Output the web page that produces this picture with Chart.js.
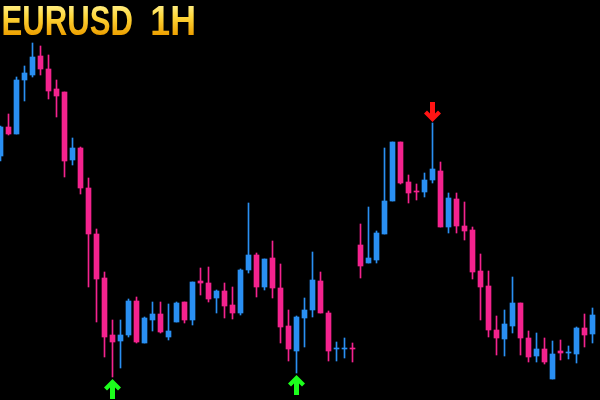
<!DOCTYPE html>
<html>
<head>
<meta charset="utf-8">
<script src="https://cdn.jsdelivr.net/npm/chart.js@4.4.1/dist/chart.umd.min.js"></script>
<style>
  html, body { margin: 0; padding: 0; background: #000; }
  #wrap { width: 600px; height: 400px; position: relative; }
</style>
</head>
<body>
<div id="wrap"><canvas id="myChart"></canvas></div>
<script>
// EURUSD 1H candles
var opens = [1.09220, 1.09365, 1.09330, 1.09600, 1.09625, 1.09720, 1.09655, 1.09555, 1.09540, 1.09200,
    1.09260, 1.09060, 1.08830, 1.08610, 1.08325, 1.08295, 1.08325, 1.08495, 1.08285, 1.08400,
    1.08430, 1.08315, 1.08390, 1.08490, 1.08400, 1.08595, 1.08585, 1.08510, 1.08545, 1.08475,
    1.08435, 1.08650, 1.08725, 1.08565, 1.08710, 1.08560, 1.08370, 1.08245, 1.08410, 1.08450,
    1.08595, 1.08435, 1.08255, 1.08255, 1.08260, 1.08775, 1.08685, 1.08700, 1.08830, 1.08995,
    1.09290, 1.09090, 1.09045, 1.09040, 1.09100, 1.09145, 1.08865, 1.09005, 1.08870, 1.08850,
    1.08645, 1.08570, 1.08350, 1.08305, 1.08370, 1.08485, 1.08310, 1.08220, 1.08255, 1.08105,
    1.08245, 1.08235, 1.08230, 1.08360, 1.08330];
var highs = [1.09370, 1.09430, 1.09615, 1.09670, 1.09785, 1.09770, 1.09725, 1.09600, 1.09540, 1.09310,
    1.09265, 1.09110, 1.08855, 1.08640, 1.08400, 1.08400, 1.08505, 1.08515, 1.08415, 1.08490,
    1.08490, 1.08480, 1.08490, 1.08490, 1.08590, 1.08660, 1.08665, 1.08550, 1.08585, 1.08565,
    1.08655, 1.08985, 1.08735, 1.08705, 1.08795, 1.08680, 1.08450, 1.08420, 1.08510, 1.08740,
    1.08640, 1.08445, 1.08290, 1.08310, 1.08285, 1.08880, 1.08965, 1.08845, 1.09260, 1.09290,
    1.09290, 1.09125, 1.09080, 1.09135, 1.09385, 1.09190, 1.09035, 1.09035, 1.08990, 1.08865,
    1.08730, 1.08645, 1.08420, 1.08450, 1.08615, 1.08485, 1.08345, 1.08335, 1.08310, 1.08295,
    1.08300, 1.08270, 1.08365, 1.08430, 1.08460];
var lows = [1.09195, 1.09325, 1.09330, 1.09495, 1.09615, 1.09625, 1.09505, 1.09415, 1.09115, 1.09175,
    1.09030, 1.08565, 1.08390, 1.08215, 1.08115, 1.08160, 1.08315, 1.08285, 1.08285, 1.08345,
    1.08335, 1.08300, 1.08390, 1.08385, 1.08375, 1.08525, 1.08490, 1.08435, 1.08410, 1.08405,
    1.08425, 1.08635, 1.08515, 1.08550, 1.08510, 1.08285, 1.08195, 1.08135, 1.08265, 1.08415,
    1.08435, 1.08195, 1.08195, 1.08210, 1.08190, 1.08610, 1.08685, 1.08685, 1.08830, 1.08995,
    1.09080, 1.08985, 1.09000, 1.09015, 1.09085, 1.08865, 1.08835, 1.08835, 1.08800, 1.08605,
    1.08400, 1.08315, 1.08225, 1.08220, 1.08335, 1.08225, 1.08190, 1.08190, 1.08180, 1.08105,
    1.08200, 1.08205, 1.08185, 1.08265, 1.08285];
var closes = [1.09365, 1.09330, 1.09600, 1.09635, 1.09715, 1.09655, 1.09545, 1.09520, 1.09195, 1.09260,
    1.09060, 1.08830, 1.08605, 1.08315, 1.08290, 1.08325, 1.08495, 1.08290, 1.08410, 1.08430,
    1.08340, 1.08345, 1.08485, 1.08400, 1.08590, 1.08585, 1.08505, 1.08545, 1.08470, 1.08435,
    1.08650, 1.08725, 1.08565, 1.08705, 1.08560, 1.08365, 1.08255, 1.08415, 1.08450, 1.08600,
    1.08435, 1.08245, 1.08260, 1.08260, 1.08255, 1.08670, 1.08710, 1.08835, 1.08995, 1.09290,
    1.09085, 1.09035, 1.09040, 1.09100, 1.09155, 1.08865, 1.09010, 1.08870, 1.08845, 1.08640,
    1.08565, 1.08350, 1.08310, 1.08380, 1.08485, 1.08310, 1.08215, 1.08255, 1.08190, 1.08230,
    1.08235, 1.08240, 1.08360, 1.08325, 1.08425];

// signal arrows (candle index)
var upArrows = [14, 37];
var downArrows = [54];

var title = ['EURUSD', '1H'];

var upColor = '#2a8ff2';
var downColor = '#f4238e';

var candleColors = opens.map(function (o, i) {
    return closes[i] >= o ? upColor : downColor;
});

var wickData = lows.map(function (l, i) { return { x: i, y: [l, highs[i]] }; });
var bodyData = opens.map(function (o, i) { return { x: i, y: [o, closes[i]] }; });

function drawArrow(ctx, x, y, dir, color) {
    // tip at (x, y); dir 1 = pointing up, -1 = pointing down
    var pts = [[0, 0], [8.5, 8.5], [5.5, 11.5], [2.5, 8.5], [2.5, 20], [-2.5, 20], [-2.5, 8.5], [-5.5, 11.5], [-8.5, 8.5]];
    ctx.save();
    ctx.fillStyle = color;
    ctx.beginPath();
    pts.forEach(function (p, k) {
        var px = x + p[0], py = y + p[1] * dir;
        if (k === 0) ctx.moveTo(px, py); else ctx.lineTo(px, py);
    });
    ctx.closePath();
    ctx.fill();
    ctx.restore();
}

function fitText(ctx, text, left, right, baseline) {
    var m = ctx.measureText(text);
    var w = m.actualBoundingBoxLeft + m.actualBoundingBoxRight;
    var sx = (right - left) / w;
    ctx.save();
    ctx.translate(left, baseline);
    ctx.scale(sx, 1);
    // gradient in the translated space: cap top is about 30px above the baseline
    var g = ctx.createLinearGradient(0, -31, 0, 0);
    g.addColorStop(0, '#fff08c');
    g.addColorStop(0.4, '#ffd83c');
    g.addColorStop(1, '#eda000');
    ctx.fillStyle = g;
    ctx.fillText(text, m.actualBoundingBoxLeft, 0);
    ctx.restore();
}

var overlayPlugin = {
    id: 'overlay',
    afterDatasetsDraw: function (chart) {
        var ctx = chart.ctx;
        var xs = chart.scales.x, ys = chart.scales.y;
        upArrows.forEach(function (i) {
            drawArrow(ctx, xs.getPixelForValue(i), ys.getPixelForValue(lows[i]) + 2, 1, '#1cff1c');
        });
        downArrows.forEach(function (i) {
            drawArrow(ctx, xs.getPixelForValue(i), ys.getPixelForValue(highs[i]) - 1, -1, '#ff1414');
        });

        ctx.save();
        ctx.font = 'bold 42px "Liberation Sans", Arial, sans-serif';
        ctx.textBaseline = 'alphabetic';
        fitText(ctx, title[0], 3, 132, 35);
        fitText(ctx, title[1], 152, 194, 35);
        ctx.restore();
    }
};

var ctx = document.getElementById('myChart').getContext('2d');
var myChart = new Chart(ctx, {
    type: 'bar',
    data: {
        datasets: [{
            label: 'wick',
            data: wickData,
            backgroundColor: candleColors,
            barThickness: 1,
            grouped: false,
            borderWidth: 0
        }, {
            label: 'body',
            data: bodyData,
            backgroundColor: candleColors,
            barThickness: 5,
            minBarLength: 1,
            grouped: false,
            borderWidth: 0
        }]
    },
    options: {
        responsive: true,
        maintainAspectRatio: false,
        animation: false,
        layout: { padding: 0 },
        plugins: {
            legend: { display: false },
            tooltip: { enabled: false },
            title: { display: false }
        },
        scales: {
            x: {
                type: 'linear',
                min: -0.0625,
                max: 74.9375,
                offset: false,
                display: false
            },
            y: {
                type: 'linear',
                min: 1.08,
                max: 1.10,
                display: false
            }
        }
    },
    plugins: [overlayPlugin]
});
</script>
</body>
</html>
